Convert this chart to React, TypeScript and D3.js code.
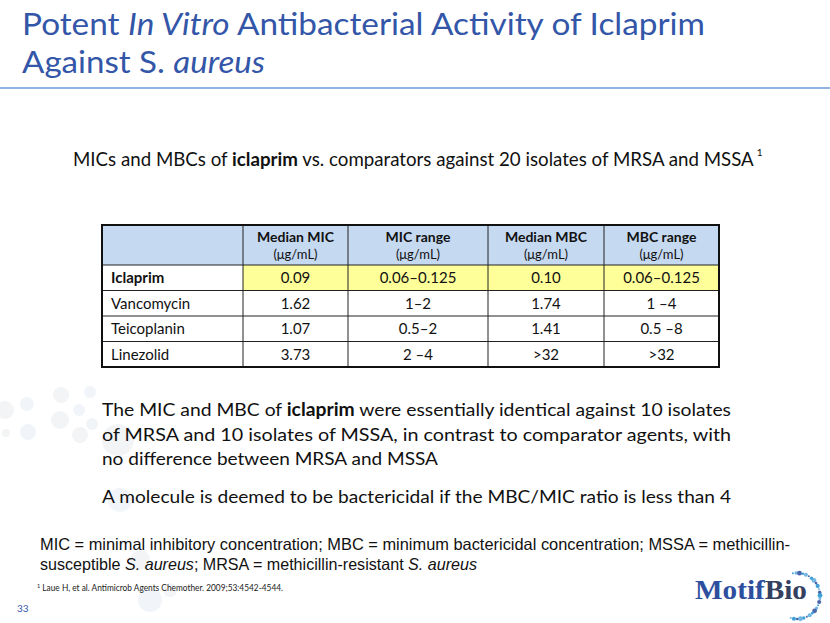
import { useLayoutEffect, useRef } from 'react';
import * as d3 from 'd3';

// table content
const drugs = ['Iclaprim', 'Vancomycin', 'Teicoplanin', 'Linezolid'];
const headers = ['Median MIC', 'MIC range', 'Median MBC', 'MBC range'];
const unitLabel = '(\u03bcg/mL)';
const medianMIC = ['0.09', '1.62', '1.07', '3.73'];
const micRange = ['0.06\u20130.125', '1\u20132', '0.5\u20132', '2 \u20134'];
const medianMBC = ['0.10', '1.74', '1.41', '>32'];
const mbcRange = ['0.06\u20130.125', '1 \u20134', '0.5 \u20138', '>32'];
const highlighted = ['Iclaprim'];

const W = 830;
const H = 623;
const FONT = 'Lato, "Open Sans", sans-serif';
const BLUE = '#3356a8';

// layout of the table
const tableLeft = 102;
const tableTop = 225;
const headerBottom = 265;
const tableBottom = 367;
const colWidths = [141, 105, 140, 116, 115];

const subtitleX = 73;
const subtitleWidth = 681;

export default function App() {
  const subRef = useRef<SVGTextElement>(null);
  const supRef = useRef<SVGTextElement>(null);

  // fit the subtitle to its width by font size, then park the superscript after it
  useLayoutEffect(() => {
    const el = subRef.current;
    if (!el) return;
    const w = el.getComputedTextLength();
    if (w > 0) el.setAttribute('font-size', String((19 * subtitleWidth) / w));
    const w2 = el.getComputedTextLength();
    if (supRef.current) supRef.current.setAttribute('x', String(subtitleX + w2 + 3));
  }, []);

  const columns = ['drug', ...headers];
  const edges = [tableLeft, ...Array.from(d3.cumsum(colWidths), (d) => tableLeft + d)];
  const xLeft = d3.scaleOrdinal<string, number>().domain(columns).range(edges.slice(0, -1));
  const xRight = d3.scaleOrdinal<string, number>().domain(columns).range(edges.slice(1));
  const xMid = (c: string) => (xLeft(c) + xRight(c)) / 2;
  const tableRight = edges[edges.length - 1];

  const y = d3.scaleBand<string>().domain(drugs).range([headerBottom, tableBottom]).padding(0);

  const valuesByCol = [medianMIC, micRange, medianMBC, mbcRange];

  // decorative dots around logo
  const arc = d3.range(0, 26).map((i) => {
    const a = -1.75 + (i / 25) * 3.6;
    return {
      x: 797 + 23 * Math.cos(a),
      y: 596 + 23 * Math.sin(a),
      r: 1 + ((i * 7) % 5) * 0.35,
      c: i % 3 === 0 ? '#1f8fd0' : i % 3 === 1 ? '#5aa9dd' : '#2b4c9b',
    };
  });

  const faint = [
    { x: 5, y: 410, r: 9 }, { x: 27, y: 404, r: 7 }, { x: 61, y: 395, r: 8 },
    { x: 90, y: 392, r: 6 }, { x: 60, y: 420, r: 9 }, { x: 79, y: 410, r: 6 },
    { x: 6, y: 433, r: 4 }, { x: 28, y: 432, r: 8 }, { x: 80, y: 435, r: 8 },
    { x: 92, y: 424, r: 6 }, { x: 118, y: 440, r: 16 }, { x: 120, y: 500, r: 12 },
    { x: 140, y: 560, r: 10 }, { x: 150, y: 600, r: 12 }, { x: 170, y: 590, r: 7 },
  ];

  return (
    <svg
      width={W}
      height={H}
      viewBox={`0 0 ${W} ${H}`}
      style={{ position: 'absolute', left: 0, top: 0, background: '#fff' }}
    >
      <rect width={W} height={H} fill="#fff" />

      {/* faint background bubbles */}
      <g>
        {faint.map((d, i) => (
          <circle key={i} cx={d.x} cy={d.y} r={d.r} fill={i % 2 ? '#f1f5f9' : '#f3f4f5'} />
        ))}
      </g>

      {/* title */}
      <text x={22} y={35} fontFamily={FONT} fontSize={31} fill={BLUE} textLength={683} lengthAdjust="spacingAndGlyphs">
        Potent <tspan fontStyle="italic">In Vitro</tspan> Antibacterial Activity of Iclaprim
      </text>
      <text x={22} y={73} fontFamily={FONT} fontSize={31} fill={BLUE} textLength={243} lengthAdjust="spacingAndGlyphs">
        Against S. <tspan fontStyle="italic">aureus</tspan>
      </text>
      <line x1={0} x2={W} y1={88} y2={88} stroke="#8eb4e3" strokeWidth={2} />

      {/* subtitle */}
      <text ref={subRef} x={subtitleX} y={166} fontFamily={FONT} fontSize={19} fill="#111">
        MICs and MBCs of <tspan fontWeight="bold">iclaprim</tspan> vs. comparators against 20 isolates of MRSA and MSSA
      </text>
      <text ref={supRef} x={757} y={156} fontFamily={FONT} fontSize={10} fill="#111">1</text>

      {/* table */}
      <g>
        <rect x={tableLeft} y={tableTop} width={tableRight - tableLeft} height={headerBottom - tableTop} fill="#c5d9f1" />
        {drugs.map((d) => (
          <g key={d}>
            {columns.map((c, ci) => (
              <rect
                key={c}
                x={xLeft(c)}
                y={y(d)}
                width={xRight(c) - xLeft(c)}
                height={y.bandwidth()}
                fill={highlighted.includes(d) && ci > 0 ? '#ffff99' : '#fff'}
              />
            ))}
          </g>
        ))}

        {/* header text */}
        {headers.map((h) => (
          <g key={h} fontFamily={FONT} fill="#111" textAnchor="middle">
            <text x={xMid(h)} y={242} fontSize={14} fontWeight="bold">{h}</text>
            <text x={xMid(h)} y={258.5} fontSize={13}>{unitLabel}</text>
          </g>
        ))}

        {/* body text */}
        {drugs.map((d, ri) => (
          <g key={d} fontFamily={FONT} fontSize={15} fill="#111">
            <text
              x={xLeft('drug') + 9}
              y={(y(d) ?? 0) + y.bandwidth() / 2 + 5.5}
              fontWeight={highlighted.includes(d) ? 'bold' : 'normal'}
            >
              {d}
            </text>
            {headers.map((h, ci) => (
              <text key={h} x={xMid(h)} y={(y(d) ?? 0) + y.bandwidth() / 2 + 5.5} textAnchor="middle">
                {valuesByCol[ci][ri]}
              </text>
            ))}
          </g>
        ))}

        {/* grid lines */}
        {[headerBottom, ...drugs.slice(1).map((d) => y(d) ?? 0)].map((yy, i) => (
          <line key={'h' + i} x1={tableLeft} x2={tableRight} y1={yy} y2={yy} stroke="#222" strokeWidth={1} />
        ))}
        {edges.slice(1, -1).map((xx, i) => (
          <line key={'v' + i} x1={xx} x2={xx} y1={tableTop} y2={tableBottom} stroke="#222" strokeWidth={1} />
        ))}
        <rect
          x={tableLeft}
          y={tableTop}
          width={tableRight - tableLeft}
          height={tableBottom - tableTop}
          fill="none"
          stroke="#111"
          strokeWidth={2}
        />
      </g>

      {/* body paragraph */}
      <g fontFamily={FONT} fontSize={18} fill="#111">
        <text x={102} y={416} textLength={629} lengthAdjust="spacingAndGlyphs">
          The MIC and MBC of <tspan fontWeight="bold">iclaprim</tspan> were essentially identical against 10 isolates
        </text>
        <text x={102} y={441} textLength={629} lengthAdjust="spacingAndGlyphs">
          of MRSA and 10 isolates of MSSA, in contrast to comparator agents, with
        </text>
        <text x={102} y={465} textLength={336} lengthAdjust="spacingAndGlyphs">
          no difference between MRSA and MSSA
        </text>
        <text x={102} y={503} textLength={629} lengthAdjust="spacingAndGlyphs">
          A molecule is deemed to be bactericidal if the MBC/MIC ratio is less than 4
        </text>
      </g>

      {/* abbreviations */}
      <g fontFamily='"Liberation Sans", Arial, sans-serif' fontSize={16.5} fill="#111">
        <text x={40} y={550} textLength={750} lengthAdjust="spacingAndGlyphs">
          MIC = minimal inhibitory concentration; MBC = minimum bactericidal concentration; MSSA = methicillin-
        </text>
        <text x={40} y={570} textLength={437} lengthAdjust="spacingAndGlyphs">
          susceptible <tspan fontStyle="italic">S. aureus</tspan>; MRSA = methicillin-resistant <tspan fontStyle="italic">S. aureus</tspan>
        </text>
      </g>

      {/* reference */}
      <text x={37} y={591} fontFamily={FONT} fontSize={9} fill="#222" textLength={246} lengthAdjust="spacingAndGlyphs">
        <tspan fontSize={6} dy={-3}>1</tspan>
        <tspan dy={3}> Laue H, et al. Antimicrob Agents Chemother. 2009;53:4542-4544.</tspan>
      </text>
      <text x={17} y={612} fontFamily={FONT} fontSize={10} fill={BLUE}>33</text>

      {/* logo */}
      <g>
        {arc.map((d, i) => (
          <circle key={i} cx={d.x} cy={d.y} r={d.r} fill={d.c} opacity={0.85} />
        ))}
        <text
          x={695}
          y={599}
          fontFamily='"Liberation Serif", "DejaVu Serif", serif'
          fontWeight="bold"
          fontSize={27}
          textLength={112}
          lengthAdjust="spacingAndGlyphs"
        >
          <tspan fill="#2d4f9e">Motif</tspan>
          <tspan fill="#34405f">Bio</tspan>
        </text>
      </g>
    </svg>
  );
}
